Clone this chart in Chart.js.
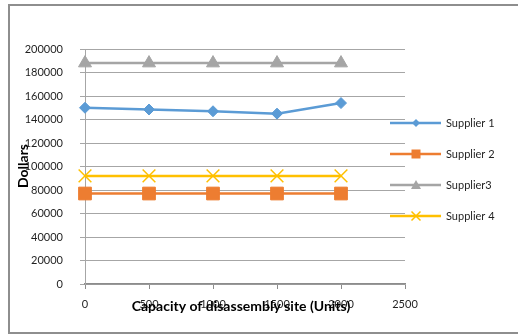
<!DOCTYPE html>
<html>
<head>
<meta charset="utf-8">
<script src="https://cdn.jsdelivr.net/npm/chart.js@4"></script>
<style>
    html, body { margin: 0; padding: 0; background: #fff; }
    #wrap { position: relative; width: 518px; height: 336px; overflow: hidden; }
    #frame { position: absolute; left: 8px; top: 4px; width: 600px; height: 326px; border: 2px solid #8e8e8e; }
    canvas { position: absolute; left: 0; top: 0; }
</style>
</head>
<body>
<div id="wrap">
    <div id="frame"></div>
    <canvas id="grafico" width="518" height="336"></canvas>
</div>
<script>
// Capacidade do local de desmontagem (eixo X)
const capacidades = ['0', '500', '1000', '1500', '2000', '2500'];

// Custos por fornecedor (Dollars)
const supplier1 = [150000, 148500, 147000, 145000, 154000];
const supplier2 = [77000, 77000, 77000, 77000, 77000];
const supplier3 = [188000, 188000, 188000, 188000, 188000];
const supplier4 = [92000, 92000, 92000, 92000, 92000];

const nomes = ['Supplier 1', 'Supplier 2', 'Supplier3', 'Supplier 4'];
const cores = ['#5b9bd5', '#ed7d31', '#a5a5a5', '#ffc000'];

const fonte = 'Lato, "Open Sans", sans-serif';
const corTexto = '#1f1f1f';

function desenhaMarcador(ctx, tipo, x, y, s, cor) {
    ctx.save();
    ctx.fillStyle = cor;
    ctx.strokeStyle = cor;
    ctx.beginPath();
    if (tipo === 'rectRot') {
        ctx.moveTo(x, y - s); ctx.lineTo(x + s, y); ctx.lineTo(x, y + s); ctx.lineTo(x - s, y);
        ctx.closePath(); ctx.fill();
    } else if (tipo === 'rect') {
        ctx.rect(x - s, y - s, 2 * s, 2 * s); ctx.fill();
    } else if (tipo === 'triangle') {
        ctx.moveTo(x, y - s); ctx.lineTo(x + s, y + s * 0.8); ctx.lineTo(x - s, y + s * 0.8);
        ctx.closePath(); ctx.fill();
    } else {
        ctx.lineWidth = 1.5;
        ctx.moveTo(x - s, y - s); ctx.lineTo(x + s, y + s);
        ctx.moveTo(x + s, y - s); ctx.lineTo(x - s, y + s);
        ctx.stroke();
    }
    ctx.restore();
}

// legenda e titulos dos eixos desenhados a mao (sobrepostos como no original)
const extras = {
    id: 'extras',
    afterDraw(chart) {
        const ctx = chart.ctx;
        const tipos = ['rectRot', 'rect', 'triangle', 'crossRot'];
        const tam = [4, 4.5, 5, 4.5];
        ctx.save();
        nomes.forEach((nome, i) => {
            const y = 123 + i * 31;
            ctx.strokeStyle = cores[i];
            ctx.lineWidth = 2.5;
            ctx.beginPath();
            ctx.moveTo(390, y);
            ctx.lineTo(441, y);
            ctx.stroke();
            desenhaMarcador(ctx, tipos[i], 416, y, tam[i], cores[i]);
            ctx.fillStyle = corTexto;
            ctx.font = '11px ' + fonte;
            ctx.textAlign = 'left';
            ctx.textBaseline = 'middle';
            ctx.fillText(nome, 446, y);
        });

        ctx.font = 'bold 14px ' + fonte;
        ctx.fillStyle = '#000';
        ctx.textAlign = 'center';
        ctx.textBaseline = 'middle';
        ctx.fillText('Capacity of disassembly site (Units)', 241, 306);

        ctx.translate(23, 166);
        ctx.rotate(-Math.PI / 2);
        ctx.fillText('Dollars', 0, 0);
        ctx.restore();
    }
};

const ctx = document.getElementById('grafico').getContext('2d');
const grafico = new Chart(ctx, {
    type: 'line',
    data: {
        labels: capacidades,
        datasets: [
            {
                label: nomes[0],
                data: supplier1,
                borderColor: cores[0],
                backgroundColor: cores[0],
                borderWidth: 2.5,
                pointStyle: 'rectRot',
                pointRadius: 5.5,
                pointBorderWidth: 1
            },
            {
                label: nomes[1],
                data: supplier2,
                borderColor: cores[1],
                backgroundColor: cores[1],
                borderWidth: 2.5,
                pointStyle: 'rect',
                pointRadius: 9,
                pointBorderWidth: 1
            },
            {
                label: nomes[2],
                data: supplier3,
                borderColor: cores[2],
                backgroundColor: cores[2],
                borderWidth: 2.5,
                pointStyle: 'triangle',
                pointRadius: 7.5,
                pointBorderWidth: 1
            },
            {
                label: nomes[3],
                data: supplier4,
                borderColor: cores[3],
                backgroundColor: cores[3],
                borderWidth: 2.5,
                pointStyle: 'crossRot',
                pointRadius: 9,
                pointBorderWidth: 1.5
            }
        ]
    },
    options: {
        responsive: false,
        animation: false,
        devicePixelRatio: 1,
        clip: false,
        layout: { padding: { top: 49, right: 113, bottom: 0, left: 0 } },
        plugins: {
            legend: { display: false },
            tooltip: { enabled: false }
        },
        scales: {
            x: {
                type: 'category',
                offset: false,
                afterFit: s => { s.height = 52; },
                grid: { drawOnChartArea: false, drawTicks: true, tickLength: 5, color: '#8c8c8c' },
                border: { color: '#8c8c8c', width: 1.5 },
                ticks: {
                    padding: 9,
                    maxRotation: 0,
                    autoSkip: false,
                    color: corTexto,
                    font: { family: fonte, size: 11 }
                }
            },
            y: {
                min: 0,
                max: 200000,
                afterFit: s => { s.width = 85; },
                grid: { color: '#a6a6a6', tickLength: 5, lineWidth: 1 },
                border: { color: '#a6a6a6' },
                ticks: {
                    stepSize: 20000,
                    padding: 17,
                    color: corTexto,
                    font: { family: fonte, size: 11 },
                    callback: v => v
                }
            }
        }
    },
    plugins: [extras]
});
</script>
</body>
</html>
